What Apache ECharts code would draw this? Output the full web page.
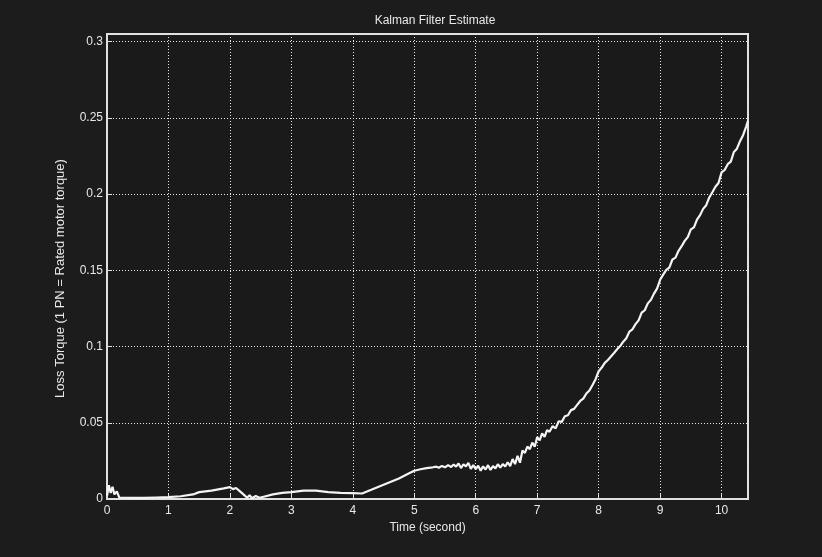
<!DOCTYPE html>
<html>
<head>
<meta charset="utf-8">
<title>Kalman Filter Estimate</title>
<script src="https://cdn.jsdelivr.net/npm/echarts@6/dist/echarts.min.js"></script>
<style>
  html, body { margin: 0; padding: 0; background: #1c1c1c; }
  #chart { width: 822px; height: 557px; }
</style>
</head>
<body>
<div id="chart"></div>
<script>
// Estimated loss torque over time (per-unit of rated motor torque)
const timeSec = [
  0, 0.03, 0.06, 0.09, 0.12, 0.16, 0.2, 0.4, 0.6, 0.8,
  1.0, 1.2, 1.4, 1.5, 1.7, 1.9, 2.0, 2.05, 2.1, 2.15,
  2.22, 2.28, 2.32, 2.36, 2.42, 2.48, 2.55, 2.7, 2.85, 3.0,
  3.2, 3.4, 3.6, 3.8, 4.0, 4.15, 4.3, 4.45, 4.6, 4.75,
  4.9, 5.0, 5.1, 5.2, 5.3, 5.36,
  5.40, 5.45, 5.50, 5.55, 5.60, 5.64, 5.68, 5.72, 5.76, 5.80,
  5.84, 5.88, 5.92, 5.96, 6.00, 6.04, 6.08, 6.12, 6.16, 6.20,
  6.24, 6.28, 6.32, 6.36, 6.40, 6.44, 6.48, 6.52, 6.56, 6.60,
  6.64, 6.68, 6.72, 6.76, 6.80, 6.84, 6.88, 6.92, 6.96, 7.00,
  7.04, 7.08, 7.12, 7.16, 7.20, 7.25, 7.30, 7.35, 7.40, 7.45,
  7.50, 7.55, 7.60, 7.65, 7.70, 7.75, 7.80, 7.85, 7.90, 7.95,
  8.00, 8.05, 8.10, 8.15, 8.20, 8.25, 8.30, 8.35, 8.40, 8.45,
  8.50, 8.55, 8.60, 8.65, 8.70, 8.75, 8.80, 8.85, 8.90, 8.95,
  9.00, 9.05, 9.10, 9.15, 9.20, 9.25, 9.30, 9.35, 9.40, 9.45,
  9.50, 9.55, 9.60, 9.65, 9.70, 9.75, 9.80, 9.85, 9.90, 9.95,
  10.00, 10.05, 10.10, 10.15, 10.20, 10.25, 10.30, 10.35, 10.40, 10.43
];
const lossTorque = [
  0.002, 0.009, 0.004, 0.008, 0.003, 0.005, 0.001, 0.0008, 0.0008, 0.001,
  0.0012, 0.0018, 0.003, 0.0045, 0.0055, 0.007, 0.0078, 0.0065, 0.0072, 0.0055,
  0.003, 0.0008, 0.0025, 0.0005, 0.002, 0.0008, 0.0015, 0.003, 0.004, 0.0045,
  0.0055, 0.0055, 0.0045, 0.004, 0.0038, 0.0036, 0.006, 0.0085, 0.011, 0.0135,
  0.0165, 0.0185, 0.0195, 0.0203, 0.0208, 0.0212,
  0.0205, 0.0217, 0.0208, 0.0222, 0.0210, 0.0226, 0.0212, 0.0233, 0.0203, 0.0228,
  0.0214, 0.0237, 0.0198, 0.0222, 0.0196, 0.0218, 0.0186, 0.0214, 0.0193, 0.0222,
  0.0190, 0.0216, 0.0201, 0.0228, 0.0206, 0.0229, 0.0213, 0.0241, 0.0216, 0.0262,
  0.0229, 0.0283, 0.0238, 0.0318, 0.0302, 0.0344, 0.0327, 0.0370, 0.0343, 0.0406,
  0.0384, 0.0430, 0.0407, 0.0452, 0.0441, 0.0477, 0.0463, 0.0510, 0.0506, 0.0543,
  0.0549, 0.0583, 0.0591, 0.0617, 0.0643, 0.0658, 0.0692, 0.0712, 0.0748, 0.0786,
  0.0838, 0.0862, 0.0893, 0.0912, 0.0935, 0.0958, 0.0982, 0.1003, 0.1032, 0.1054,
  0.1098, 0.1113, 0.1147, 0.1172, 0.1222, 0.1238, 0.1283, 0.1306, 0.1347, 0.1380,
  0.1438, 0.1472, 0.1503, 0.1518, 0.1571, 0.1583, 0.1628, 0.1658, 0.1693, 0.1718,
  0.1768, 0.1782, 0.1833, 0.1862, 0.1903, 0.1927, 0.1978, 0.2012, 0.2048, 0.2073,
  0.2142, 0.2158, 0.2196, 0.2213, 0.2276, 0.2298, 0.2347, 0.2386, 0.2443, 0.2480
];

const xTicks = [0, 1, 2, 3, 4, 5, 6, 7, 8, 9, 10];
const yTicks = [0, 0.05, 0.1, 0.15, 0.2, 0.25, 0.3];

const points = timeSec.map((t, i) => [t, lossTorque[i]]);

const fontFamily = "'Liberation Sans', Arial, sans-serif";
const gridLine = { color: '#e6e6e6', width: 1, type: [1, 2] };

const chart = echarts.init(document.getElementById('chart'), null, { renderer: 'canvas' });
chart.setOption({
  backgroundColor: '#1c1c1c',
  animation: false,
  title: {
    text: 'Kalman Filter Estimate',
    left: 430,
    top: 10,
    textAlign: 'center',
    textStyle: { color: '#e8e8e8', fontSize: 12, fontWeight: 'normal', fontFamily }
  },
  grid: {
    left: 107, right: 74, top: 34, bottom: 58,
    show: true, borderColor: '#e0e0e0', borderWidth: 2,
    backgroundColor: '#1a1a1a'
  },
  xAxis: {
    type: 'value',
    min: 0, max: 10.43, interval: 1,
    name: 'Time (second)',
    nameLocation: 'middle',
    nameGap: 19,
    nameTextStyle: { color: '#e8e8e8', fontSize: 12, fontFamily },
    axisLine: { show: true, lineStyle: { color: '#e0e0e0', width: 2 } },
    axisTick: { show: true, inside: true, length: 5, lineStyle: { color: '#e0e0e0' } },
    axisLabel: {
      color: '#e8e8e8', fontSize: 12, fontFamily, margin: 6,
      formatter: v => (xTicks.includes(v) ? String(v) : '')
    },
    splitLine: { show: true, lineStyle: gridLine }
  },
  yAxis: {
    type: 'value',
    min: 0, max: 0.305, interval: 0.05,
    name: 'Loss Torque (1 PN = Rated motor torque)',
    nameLocation: 'middle',
    nameGap: 40,
    nameRotate: 90,
    nameTextStyle: { color: '#e8e8e8', fontSize: 13, fontFamily, padding: [0, 24, 0, 0] },
    axisLine: { show: true, lineStyle: { color: '#e0e0e0', width: 2 } },
    axisTick: { show: true, inside: true, length: 5, lineStyle: { color: '#e0e0e0' } },
    axisLabel: {
      color: '#e8e8e8', fontSize: 12, fontFamily, margin: 4,
      formatter: v => {
        const hit = yTicks.find(t => Math.abs(t - v) < 1e-9);
        return hit === undefined ? '' : String(hit);
      }
    },
    splitLine: { show: true, lineStyle: gridLine }
  },
  series: [{
    type: 'line',
    data: points,
    showSymbol: false,
    smooth: false,
    lineStyle: { color: '#f4f4f4', width: 2.2 },
    z: 5
  }]
});
</script>
</body>
</html>
